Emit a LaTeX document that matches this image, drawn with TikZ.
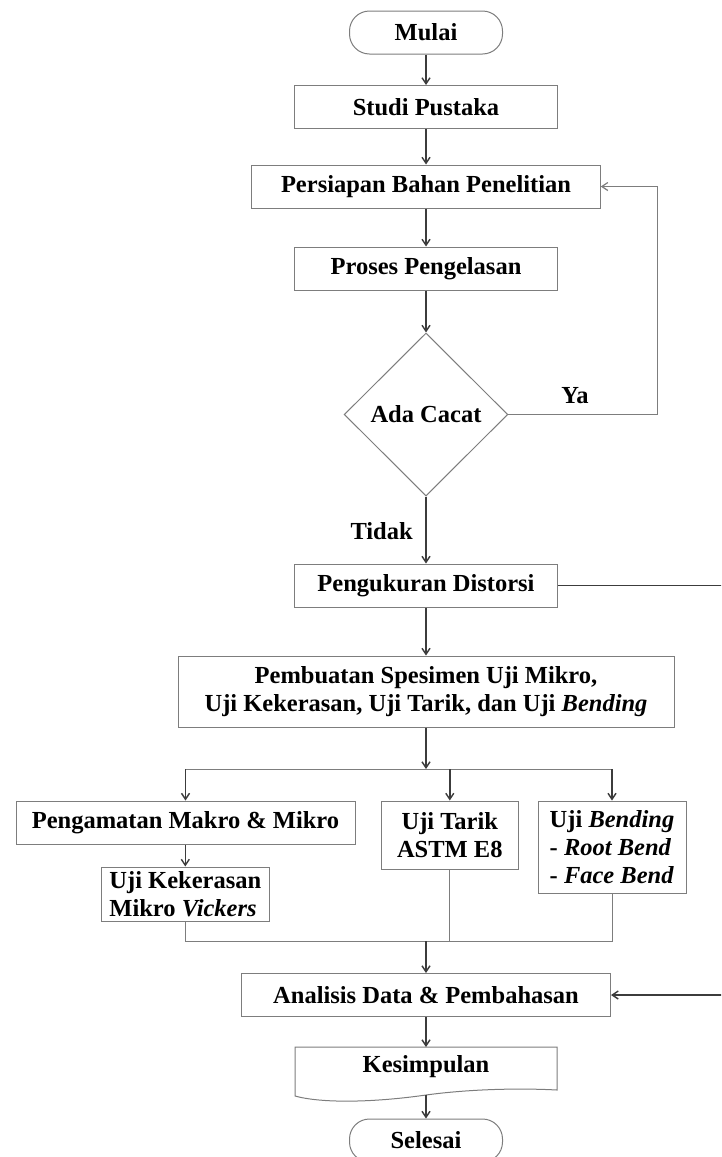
\documentclass[tikz,border=0pt]{standalone}
\usepackage{fontspec}
\setmainfont{Liberation Serif}
\usetikzlibrary{shapes.geometric,arrows.meta}
\definecolor{boxgray}{RGB}{125,125,125}
\definecolor{arrgray}{RGB}{60,60,60}
\begin{document}
\begin{tikzpicture}[x=1pt,y=-1pt,
  every node/.style={font=\fontsize{24.5}{28}\selectfont\bfseries, inner sep=0pt},
  proc/.style={draw=boxgray, line width=1pt, rectangle, minimum width=#1, minimum height=43pt},
  tallbox/.style 2 args={draw=boxgray, line width=1pt, rectangle, minimum width=#1, minimum height=#2, align=left},
  pill/.style={draw=boxgray, line width=1pt, rectangle, rounded corners=20pt, minimum width=153pt, minimum height=43pt},
  decision/.style={draw=boxgray, line width=1pt, diamond, minimum width=163.6pt, minimum height=163pt},
  arr/.style={draw=arrgray, line width=1.4pt, -{Straight Barb[length=6pt,width=8pt]}},
  plainline/.style={draw=arrgray, line width=1.4pt},
  thinline/.style={draw=boxgray, line width=1pt},
  thinarr/.style={draw=boxgray, line width=1.2pt, -{Straight Barb[length=6pt,width=8pt]}},
  lbl/.style={font=\fontsize{24.5}{28}\selectfont\bfseries}
]
\useasboundingbox (0,0) rectangle (721,1157);
\clip (0,0) rectangle (721,1157);

% main column
\node[pill] (mulai) at (426,32.5) {Mulai};
\node[proc=263] (studi) at (426,107) {Studi Pustaka};
\node[proc=348.5] (pers) at (426,186.5) {Persiapan Bahan Penelitian};
\node[proc=263] (proses) at (426,268.5) {Proses Pengelasan};
\node[decision] (cacat) at (426,414.5) {Ada Cacat};
\node[proc=263] (ukur) at (426,585.5) {Pengukuran Distorsi};
\node[tallbox={496pt}{71pt}, align=center] (pemb) at (426,691.5)
  {Pembuatan Spesimen Uji Mikro,\\Uji Kekerasan, Uji Tarik, dan Uji \textit{Bending}};

% branches
\node[proc=339] (amat) at (185.5,822.5) {Pengamatan Makro \& Mikro};
\node[tallbox={167.4pt}{54pt}] (kek) at (185.3,894) {Uji Kekerasan\\Mikro \textit{Vickers}};
\node[tallbox={136.4pt}{68pt}, align=center] (tarik) at (449.8,835) {Uji Tarik\\ASTM E8};
\node[tallbox={148pt}{92pt}] (bend) at (612,847) {Uji \textit{Bending}\\- \textit{Root Bend}\\- \textit{Face Bend}};

\node[proc=369] (anal) at (426,995) {Analisis Data \& Pembahasan};

% Kesimpulan (document shape)
\draw[thinline] (295,1096) -- (295,1047) -- (557,1047) -- (557,1090)
  .. controls (520,1088) and (470,1089) .. (426,1095)
  .. controls (370,1103) and (320,1103) .. (295,1096) -- cycle;
\node (kes) at (426,1067) {Kesimpulan};
\coordinate (kesB) at (426,1095);

\node[pill] (selesai) at (426,1140.5) {Selesai};

% labels
\node[lbl] (ya) at (575,396) {Ya};
\node[lbl] (tidak) at (381.6,531) {Tidak};

% connectors main column
\draw[arr] (mulai) -- (studi);
\draw[arr] (studi) -- (pers);
\draw[arr] (pers) -- (proses);
\draw[arr] (proses) -- (cacat);
\draw[arr] (cacat) -- (ukur);
\draw[arr] (ukur) -- (pemb);

% loop back (Ya)
\coordinate (loopR) at (657.5,414.5);
\draw[thinarr] (cacat.east) -- (loopR) |- (pers.east);

% Pengukuran -> Analisis (along right edge)
\coordinate (edgeR) at (735,585.5);
\draw[plainline] (ukur.east) -- (edgeR);
\draw[arr] (edgeR) |- (anal.east);

% split
\coordinate (bC) at (426,769);
\coordinate (bL) at (185.5,769);
\coordinate (bR) at (612,769);
\draw[arr] (pemb.south) -- (bC);
\draw[thinline] (bL) -- (bR);
\draw[arr] (bL) -- (amat.north);
\draw[arr] (bC -| tarik.north) -- (tarik.north);
\draw[arr] (bR) -- (bend.north);
\draw[arr] (amat.south -| kek.north) -- (kek.north);

% merge
\coordinate (mL) at (185.3,941);
\coordinate (mR) at (612,941);
\coordinate (mC) at (426,941);
\draw[thinline] (kek.south) -- (mL) -- (mR) -- (bend.south);
\draw[thinline] (tarik.south) -- (tarik.south |- mL);
\draw[arr] (mC) -- (anal.north);

% end
\draw[arr] (anal) -- (kes.north |- 0,1047);
\draw[arr] (kesB) -- (selesai.north);
\end{tikzpicture}
\end{document}
